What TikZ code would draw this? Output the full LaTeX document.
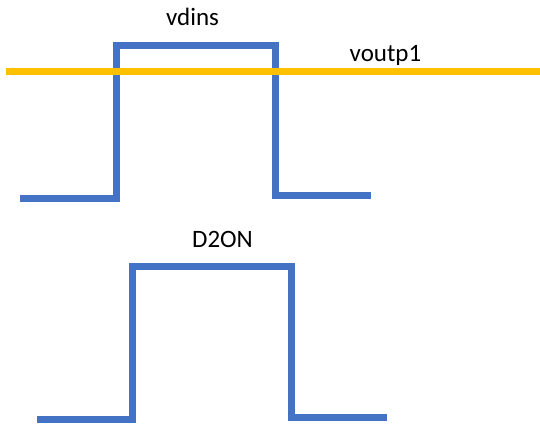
\documentclass[tikz,border=0pt]{standalone}
\usepackage{fontspec}
\setmainfont{Carlito}
\definecolor{wave}{HTML}{4472C4}
\definecolor{level}{HTML}{FFC000}
\begin{document}
\begin{tikzpicture}[x=1pt, y=-1pt, every path/.style={line width=6.5pt}, every node/.style={font=\fontsize{25}{30}\selectfont, anchor=base}]

    \useasboundingbox (0,0) rectangle (540,424);

    % top waveform
    \coordinate (a1) at (20,198.5);
    \coordinate (a2) at (116.5,198.5);
    \coordinate (a3) at (116.5,45.5);
    \coordinate (a4) at (275.5,45.5);
    \coordinate (a5) at (275.5,195.5);
    \coordinate (a6) at (371,195.5);

    \draw[wave] (a1) -- (a2) -- (a3) -- (a4) -- (a5) -- (a6);

    \node (vdins) at (192.5,25) {vdins};

    % threshold
    \coordinate (l1) at (6,71.5);
    \coordinate (l2) at (540,71.5);

    \draw[level] (l1) -- (l2);

    \node (voutp1) at (385.5,61.5) {voutp1};

    % bottom waveform
    \coordinate (b1) at (37,419.5);
    \coordinate (b2) at (132.5,419.5);
    \coordinate (b3) at (132.5,266.5);
    \coordinate (b4) at (291.5,266.5);
    \coordinate (b5) at (291.5,417.5);
    \coordinate (b6) at (387,417.5);

    \draw[wave] (b1) -- (b2) -- (b3) -- (b4) -- (b5) -- (b6);

    \node (d2on) at (222.5,247) {D2ON};

\end{tikzpicture}
\end{document}
